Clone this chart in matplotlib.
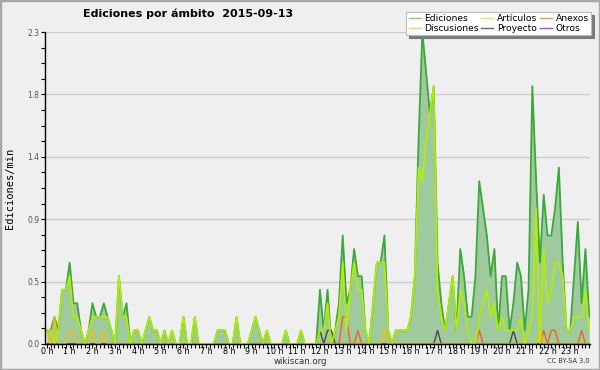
import numpy as np
import matplotlib
matplotlib.use('Agg')
import matplotlib.pyplot as plt
from matplotlib.lines import Line2D
from matplotlib.patches import Rectangle

# ediciones por cada 10 minutos (144 intervalos), se divide por 10 -> ediciones/min
hours = ['%d h' % h for h in range(24)]

ediciones = [
    1, 1, 2, 1, 4, 4,   6, 3, 3, 1, 0, 1,   3, 2, 2, 3, 2, 1,   0, 5, 2, 3, 0, 1,
    1, 0, 1, 2, 1, 1,   0, 1, 0, 1, 0, 0,   2, 0, 0, 2, 0, 0,   0, 0, 0, 1, 1, 1,
    0, 0, 2, 0, 0, 0,   1, 2, 1, 0, 1, 0,   0, 0, 0, 1, 0, 0,   0, 1, 0, 0, 0, 0,
    4, 1, 4, 0, 1, 3,   8, 3, 4, 7, 5, 5,   1, 0, 3, 6, 6, 8,   1, 0, 1, 1, 1, 1,
    2, 5, 15, 23, 20, 17,   19, 6, 3, 1, 3, 5,   1, 7, 5, 2, 2, 5,   12, 10, 8, 5, 7, 1,
    5, 5, 1, 3, 6, 5,   1, 4, 19, 12, 6, 11,   8, 8, 10, 13, 6, 1,   1, 5, 9, 3, 7, 2,
]
articulos = [
    1, 1, 0, 1, 4, 4,   5, 2, 2, 1, 0, 1,   2, 2, 2, 2, 2, 1,   0, 5, 2, 2, 0, 1,
    1, 0, 1, 2, 1, 1,   0, 1, 0, 1, 0, 0,   2, 0, 0, 2, 0, 0,   0, 0, 0, 1, 1, 1,
    0, 0, 2, 0, 0, 0,   1, 2, 1, 0, 1, 0,   0, 0, 0, 1, 0, 0,   0, 1, 0, 0, 0, 0,
    1, 1, 3, 0, 1, 2,   6, 1, 4, 6, 4, 4,   1, 0, 3, 6, 6, 6,   1, 0, 1, 1, 1, 1,
    2, 5, 13, 12, 15, 17,   19, 4, 2, 1, 3, 5,   1, 4, 3, 1, 0, 0,   2, 3, 4, 2, 3, 1,
    2, 1, 1, 1, 1, 2,   0, 1, 2, 10, 0, 7,   3, 4, 6, 6, 5, 1,   1, 2, 2, 2, 4, 1,
]
# series pequeñas: {intervalo: ediciones}
discusiones_pts = {0: 1, 2: 2, 6: 1, 7: 1, 12: 1, 15: 1, 89: 1, 130: 1}
proyecto_pts = {72: 1, 74: 1, 75: 1, 103: 1, 123: 1}
anexos_pts = {78: 2, 79: 2, 82: 1, 114: 1, 131: 1, 133: 1, 134: 1, 141: 1}
otros_pts = {}


def serie(pts):
    v = np.zeros(144)
    for k, n in pts.items():
        v[k] = n
    return v / 10


ed = np.array(ediciones) / 10
art = np.array(articulos) / 10
dis = serie(discusiones_pts)
pro = serie(proyecto_pts)
anx = serie(anexos_pts)
otr = serie(otros_pts)
x = np.arange(144)

bg = '#efefef'
c_ed, c_art, c_dis = '#3aa83a', '#b4ee00', '#f2c200'
c_pro, c_anx, c_otr = '#4a4a4a', '#f06424', '#9b30ff'

fig = plt.figure(figsize=(6, 3.7), dpi=100, facecolor=bg)
ax = fig.add_axes([0.075, 0.0703, 0.9083, 0.8432])
ax.set_facecolor(bg)

ax.fill_between(x, ed, color='#9fca9d', lw=0, zorder=2)
ax.plot(x, ed, color=c_ed, lw=1.3, zorder=3)
ax.plot(x, otr, color=c_otr, lw=1, zorder=4)
ax.plot(x, anx, color=c_anx, lw=1, zorder=4)
ax.plot(x, pro, color=c_pro, lw=1, zorder=4)
ax.plot(x, dis, color=c_dis, lw=1, zorder=4)
ax.plot(x, art, color=c_art, lw=1.2, zorder=5)

ax.set_xlim(-0.5, 143.2)
ax.set_ylim(0, 2.3)
yt = np.linspace(0, 2.3, 6)
ax.set_yticks(yt)
ax.set_yticklabels(['%.1f' % v for v in yt])
ax.set_yticks(np.linspace(0, 2.3, 21), minor=True)
ax.set_xticks(np.arange(0, 144, 6))
ax.set_xticklabels(hours)
ax.set_xticks(np.arange(144), minor=True)
ax.grid(axis='y', which='major', color='#cccccc', lw=1)
ax.set_axisbelow(True)

for s in ['top', 'right']:
    ax.spines[s].set_visible(False)
for s in ['left', 'bottom']:
    ax.spines[s].set_color('black')
    ax.spines[s].set_linewidth(1)
    ax.spines[s].set_zorder(6)

ax.tick_params(axis='x', which='both', direction='out', length=3, width=0.8,
               pad=-1, labelsize=5.8, colors='black')
ax.tick_params(axis='y', which='both', direction='out', length=3, width=0.8,
               pad=1, labelsize=5.5, labelcolor='#555555')

fig.text(0.314, 0.962, 'Ediciones por ámbito  2015-09-13', ha='center', va='center',
         fontsize=8, fontweight='bold')
fig.text(0.016, 0.492, 'Ediciones/min', rotation=90, ha='center', va='center',
         family='DejaVu Sans Mono', fontsize=7.5)
fig.text(0.5, 1 - 361 / 370, 'wikiscan.org', ha='center', va='center', fontsize=6.2,
         color='#333333')
fig.text(590 / 600, 1 - 361 / 370, 'CC BY-SA 3.0', ha='right', va='center', fontsize=4.8,
         color='#333333')

handles = [Line2D([], [], color='#80cc80', lw=1), Line2D([], [], color='#f5d060', lw=1),
           Line2D([], [], color='#cff060', lw=1), Line2D([], [], color='#666666', lw=1),
           Line2D([], [], color='#f59060', lw=1), Line2D([], [], color='#a050f0', lw=1)]
labels = ['Ediciones', 'Discusiones', 'Artículos', 'Proyecto', 'Anexos', 'Otros']
leg = fig.legend(handles, labels, ncol=3, loc='upper right',
                 bbox_to_anchor=(591 / 600, 1 - 12 / 370), frameon=True, fancybox=False,
                 shadow={'color': '#7a7a7a', 'alpha': 1}, edgecolor='#bbbbbb',
                 facecolor='white', framealpha=1, fontsize=6.6,
                 handlelength=1.3, handletextpad=0.4, columnspacing=0.3,
                 labelspacing=0.08, borderpad=0.25, borderaxespad=0)
leg.get_frame().set_linewidth(0.8)

fig.add_artist(Rectangle((0, 0), 1, 1, transform=fig.transFigure, fill=False,
                         edgecolor='#a8a8a8', lw=2.5))

fig.savefig('out.png', dpi=100, facecolor=bg)
